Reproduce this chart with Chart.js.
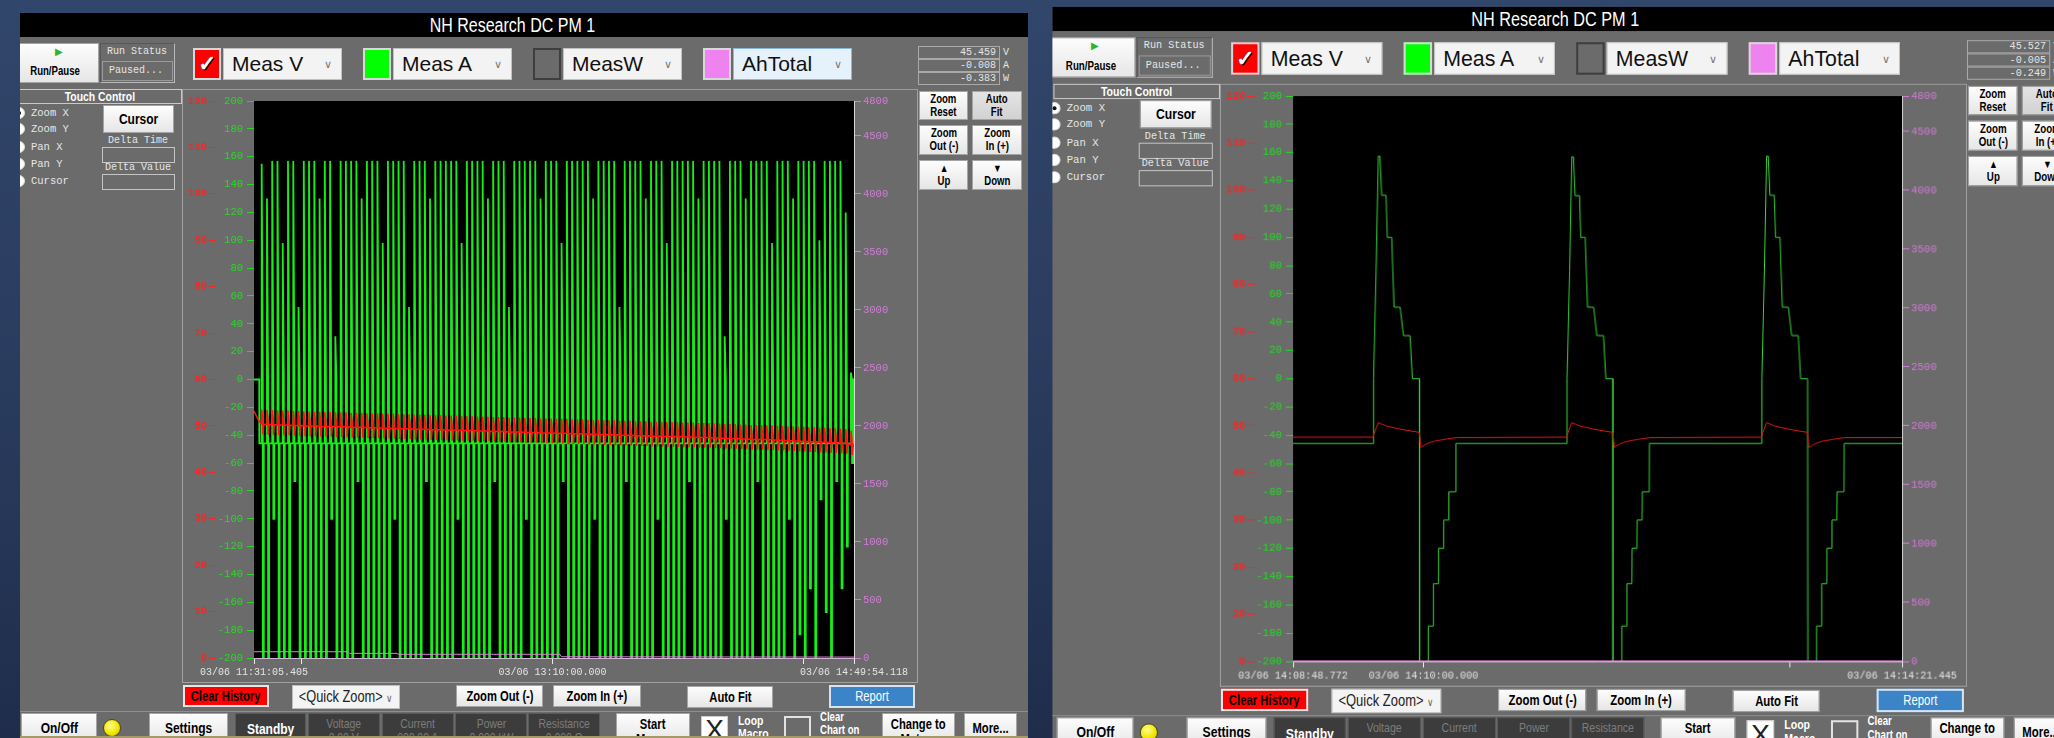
<!DOCTYPE html>
<html>
<head>
<meta charset="utf-8">
<title>NH Research DC PM 1</title>
<script src="https://cdn.jsdelivr.net/npm/chart.js@4.4.1/dist/chart.umd.min.js"></script>
<style>
  html,body{margin:0;padding:0}
  body{width:2054px;height:738px;overflow:hidden;position:relative;
       background:linear-gradient(180deg,#31466b 0%,#293b5d 55%,#1f2d4b 100%);}
  .panel{position:absolute;left:0;top:0;width:1028px;height:760px;transform-origin:0 0;}
  .panel > *{position:absolute;box-sizing:border-box;}
  .nar{font-family:"Liberation Sans",Arial,sans-serif;display:flex;align-items:center;justify-content:center;}
  .nar.l{justify-content:flex-start;}
  .c{display:inline-block;transform:scaleX(0.8);transform-origin:50% 50%;white-space:nowrap;}
  .l .c{transform-origin:0 50%;}
  .mono{font-family:"Liberation Mono","DejaVu Sans Mono",monospace;color:#e6e6e6;}
  .btn{background:linear-gradient(#fdfdfd,#e6e6e6);border:1px solid #a4a4a4;color:#000;font-weight:bold;
       flex-direction:column;text-align:center;line-height:1.05;}
  .dark{background:#3c3c3c;border:1px solid #5a5a5a;color:#7d7d7d;font-weight:bold;
       flex-direction:column;justify-content:flex-start;text-align:center;line-height:1.1;padding-top:3px;}
  .dd{background:#f3f3f3;border:1px solid #c2c2c2;color:#111;font-family:"Liberation Sans",Arial,sans-serif;
      font-size:21px;line-height:30px;padding-left:8px;white-space:nowrap;}
  .dd i{position:absolute;right:9px;top:0;font-style:normal;font-size:11px;color:#777;}
  canvas{display:block}
</style>
</head>
<body>
<div class="panel" id="histPanel"></div>
<div class="panel" id="zoomPanel"></div>
<script>
// ---------------- Long history run: 03/06 11:31:05.405 -> 14:49:54.118 ----------------
// times are seconds after the first sample
const histSpanSec = 11928.713;
const histTickSec = [0, 934.595, 5934.595, 10934.595, 11928.713];
const histTickText = ['03/06 11:31:05.405', '', '03/06 13:10:00.000', '', '03/06 14:49:54.118'];

// start of each current pulse
const histRiseSec = [150,255,359,464,568,673,778,882,987,1091,
  1196,1301,1405,1510,1614,1719,1824,1928,2033,2137,
  2242,2347,2451,2556,2660,2765,2870,2974,3079,3183,
  3288,3393,3497,3602,3706,3811,3916,4020,4125,4229,
  4334,4439,4543,4648,4752,4857,4962,5066,5171,5275,
  5380,5485,5589,5694,5798,5903,6008,6112,6217,6321,
  6426,6531,6635,6740,6844,6949,7054,7158,7263,7367,
  7472,7577,7681,7786,7890,7995,8100,8204,8309,8413,
  8518,8623,8727,8832,8936,9041,9146,9250,9355,9459,
  9564,9669,9773,9878,9982,10087,10192,10296,10401,10505,
  10610,10715,10819,10924,11028,11133,11238,11342,11447,11551,
  11656,11761,11865];
// highest and lowest current shown for each pulse (A)
const histPeakA = [155,130,157,157,98,157,157,52,157,157,
  157,130,157,157,31,157,157,157,157,130,
  157,157,157,98,157,157,157,157,52,157,
  157,157,130,157,157,157,157,157,98,157,
  157,157,157,130,157,157,157,52,157,157,
  157,157,157,130,157,157,157,98,157,157,
  157,157,157,130,157,157,157,157,52,157,
  157,157,157,130,157,157,157,98,157,157,
  157,157,157,130,157,157,157,157,31,157,
  157,157,130,157,157,157,157,98,157,157,
  157,130,157,157,157,157,100,157,157,157,
  157,120,5];
const histLowA = [-200,-200,-100,-200,-200,-200,-73,-200,-200,-200,
  -200,-200,-200,-100,-200,-200,-200,-200,-73,-200,
  -200,-200,-200,-200,-200,-100,-200,-200,-200,-200,
  -200,-73,-200,-200,-200,-200,-200,-100,-200,-200,
  -200,-200,-200,-200,-73,-200,-200,-200,-200,-200,
  -100,-200,-200,-200,-200,-200,-200,-73,-200,-200,
  -200,-200,-200,-100,-200,-200,-200,-200,-200,-73,
  -200,-200,-200,-200,-200,-100,-200,-200,-200,-200,
  -200,-73,-200,-200,-200,-200,-200,-200,-100,-200,
  -200,-200,-200,-200,-73,-200,-200,-200,-200,-200,
  -100,-200,-183,-200,-150,-200,-86,-167,-200,-73,
  -150,-120,-60];
// resting voltage before each pulse (V)
const histRestV = [50.4,50.3,50.3,50.2,50.2,50.2,50.1,50.1,50.0,50.0,
  50.0,49.9,49.9,49.9,49.8,49.8,49.8,49.7,49.7,49.7,
  49.6,49.6,49.6,49.5,49.5,49.5,49.4,49.4,49.4,49.3,
  49.3,49.3,49.2,49.2,49.2,49.1,49.1,49.1,49.0,49.0,
  49.0,48.9,48.9,48.9,48.8,48.8,48.8,48.7,48.7,48.7,
  48.6,48.6,48.6,48.5,48.5,48.5,48.4,48.4,48.4,48.3,
  48.3,48.3,48.2,48.2,48.2,48.1,48.1,48.1,48.0,48.0,
  48.0,47.9,47.9,47.9,47.8,47.8,47.8,47.7,47.7,47.7,
  47.6,47.6,47.6,47.5,47.5,47.5,47.4,47.4,47.3,47.3,
  47.3,47.2,47.2,47.1,47.1,47.1,47.0,47.0,46.9,46.9,
  46.8,46.8,46.7,46.7,46.6,46.6,46.5,46.5,46.4,46.4,
  46.3,46.2,45.9];
const histRestA = -45.8;
// pulse timing relative to its start (s): rise, peak, end of charge, discharge, discharge end, back to rest
const pulseSecA = [0, 2.7, 25.1, 25.2, 44.9, 45.1];
const pulseSecV = [0, 2.7, 25.1, 25.9, 45.5];
const pulseDeltaV = [0, 3.1, 1.0, -2.2, 0];
// amp-hour counter
const histAhSec = [0, 1869, 1900, 2843, 2870, 6083, 6110, 11928.713];
const histAh = [54, 54, 40, 40, 32, 32, 11, 8];

// ---------------- Zoomed run: 03/06 14:08:48.772 -> 14:14:21.445 ----------------
const zoomSpanSec = 332.673;
const zoomTickSec = [0, 71.228, 271.228, 332.673];
const zoomTickText = ['03/06 14:08:48.772', '03/06 14:10:00.000', '', '03/06 14:14:21.445'];
const zoomSecA = [0,
  43.9,44.0,45.4,46.6,47.5,48.4,50.8,51.5,53.9,55.2,58.5,60.3,63.9,65.2,69.0,69.1,73.8,73.9,76.6,76.7,79.4,79.5,82.2,82.3,85.0,85.1,88.9,89.0,
  149.6,149.7,151.1,152.3,153.2,154.1,156.5,157.2,159.6,160.9,164.2,166.0,169.6,170.9,174.7,174.8,179.5,179.6,182.3,182.4,185.1,185.2,187.9,188.0,190.7,190.8,194.6,194.7,
  256.0,256.1,257.5,258.7,259.6,260.5,262.9,263.6,266.0,267.3,270.6,272.4,276.0,277.3,281.1,281.2,285.9,286.0,288.7,288.8,291.5,291.6,294.3,294.4,297.1,297.2,301.0,301.1,
  332.673];
const zoomA = [-45.8,
  -45.8,0,76.6,157.5,157.5,129.8,129.8,100,100,50.6,50.6,30.5,30.5,0,0,-200,-200,-175,-175,-145,-145,-120,-120,-100,-100,-80,-80,-45.8,
  -45.8,0,76.0,157.0,157.0,129.5,129.5,100,100,50.6,50.6,30.5,30.5,0,0,-200,-200,-175,-175,-145,-145,-120,-120,-100,-100,-80,-80,-45.8,
  -45.8,0,76.6,157.5,157.5,129.8,129.8,100,100,50.6,50.6,30.5,30.5,0,0,-200,-200,-175,-175,-145,-145,-120,-120,-100,-100,-80,-80,-45.8,
  -45.8];
const zoomSecV = [0,
  43.8,44.4,46.6,50.8,58.5,69.0,69.8,73.0,76.7,84.0,89.4,
  149.5,150.1,152.3,156.5,164.2,174.7,175.5,178.7,182.4,189.7,195.1,
  255.9,256.5,258.7,262.9,270.6,281.1,281.9,285.1,288.8,296.1,301.5,
  332.673];
const zoomV = [47.6,
  47.6,48.4,50.7,50.0,49.3,48.6,45.4,46.2,46.7,47.2,47.5,
  47.6,48.4,50.7,50.0,49.3,48.6,45.4,46.2,46.7,47.2,47.5,
  47.6,48.4,50.7,50.0,49.3,48.6,45.4,46.2,46.7,47.2,47.5,
  47.5];
const zoomAhSec = [0, 332.673];
const zoomAh = [4, 4];

// ---------------- Axis ticks ----------------
const voltTicks = [0,10,20,30,40,50,60,70,80,90,100,110,120];
const ampTicks = [-200,-180,-160,-140,-120,-100,-80,-60,-40,-20,0,20,40,60,80,100,120,140,160,180,200];
const ahTicks = [0,500,1000,1500,2000,2500,3000,3500,4000,4500,4800];

// ---------------- Build history series ----------------
const histA = [{x:0,y:0},{x:105,y:0},{x:106,y:histRestA}];
const histV = [{x:0,y:53.2},{x:100,y:51.0}];
histRiseSec.forEach((r, i) => {
  const aLevels = [histRestA, histPeakA[i], 0, histLowA[i], histLowA[i], histRestA];
  pulseSecA.forEach((d, k) => histA.push({x: r + d, y: aLevels[k]}));
  pulseSecV.forEach((d, k) => histV.push({x: r + d, y: histRestV[i] + pulseDeltaV[k]}));
});
histA.push({x:11915,y:histRestA},{x:11916,y:0},{x:histSpanSec,y:0});
histV.push({x:histSpanSec,y:45.4});
const pairs = (xs, ys) => xs.map((x, i) => ({x, y: ys[i]}));

// ---------------- Panel chrome ----------------
function panelMarkup(p) {
  const out = [];
  const add = (x, y, w, h, cls, style, html = '') => {
    if (html && /\bnar\b/.test(cls)) html = `<span class="c">${html}</span>`;
    out.push(`<div class="${cls}" style="left:${x}px;top:${y}px;width:${w}px;height:${h}px;${style}">${html}</div>`);
  };
  add(0, 13, 1028, 747, '', 'background:#6b6b6b');
  add(0, 13, 1028, 24, '', 'background:#000');
  add(0, 13, 1024, 24, 'nar', 'color:#fff;font-size:20px;line-height:24px', 'NH Research DC PM 1');

  // run control
  add(12, 43, 87, 40, 'btn nar', 'font-size:12px;justify-content:flex-end;padding-bottom:4px', 'Run/Pause');
  add(52, 46, 14, 12, '', 'color:#2fb42f;font-size:10px;line-height:12px;text-align:center', '&#9654;');
  add(100, 43, 75, 40, '', 'border:1px solid;border-color:#575757 #b9b9b9 #b9b9b9 #575757');
  add(107, 46, 70, 12, 'mono', 'font-size:10px;line-height:12px', 'Run Status');
  add(102, 61, 71, 20, 'mono', 'border:1px solid #9a9a9a;font-size:10px;line-height:18px;padding-left:6px', 'Paused...');

  // trace selectors
  p.series.forEach(s => {
    add(s.x, 48, 28, 32, '', `background:${s.color};border:2px solid ${s.edge}`,
        s.checked ? '<span style="position:absolute;left:3px;top:1px;color:#fff;font:bold 22px Liberation Sans;text-shadow:0 0 1px #000,1px 1px 0 #000">&#10003;</span>' : '');
    add(s.x + 30, 48, 119, 32, 'dd', s.ddStyle || '', `${s.name}<i>&#8744;</i>`);
  });

  // live readouts
  p.readouts.forEach((r, i) => {
    add(918, 46 + i * 13, 82, 13, 'mono', 'border:1px solid #a9a9a9;font-size:10px;line-height:11px;text-align:right;padding-right:3px', r[0]);
    add(1003, 46 + i * 13, 14, 13, 'mono', 'font-size:10px;line-height:13px', r[1]);
  });

  // touch control
  add(182, 89, 736, 594, '', 'border:1px solid #a1a1a1;border-top-color:#9a9a9a');
  add(18, 89, 164, 15, 'nar', 'border:1px solid #c9c9c9;color:#fff;font-weight:bold;font-size:13px;line-height:13px', 'Touch Control');
  ['Zoom X', 'Zoom Y', 'Pan X', 'Pan Y', 'Cursor'].forEach((t, i) => {
    const cy = [113, 129, 147, 164, 181][i];
    add(13, cy - 6, 12, 12, '', 'background:#fff;border-radius:50%;border:1px solid #ddd', i === 0 ? '<span style="position:absolute;left:3px;top:3px;width:4px;height:4px;border-radius:50%;background:#111"></span>' : '');
    add(31, cy - 7, 70, 14, 'mono', 'font-size:10.5px;line-height:14px', t);
  });
  add(103, 105, 71, 28, 'btn nar', 'font-size:15px', 'Cursor');
  add(100, 135, 76, 12, 'mono', 'font-size:10px;line-height:12px;text-align:center', 'Delta Time');
  add(102, 147, 73, 16, '', 'border:1px solid #c4c4c4');
  add(100, 162, 76, 12, 'mono', 'font-size:10px;line-height:12px;text-align:center', 'Delta Value');
  add(102, 174, 73, 16, '', 'border:1px solid #c4c4c4');

  // zoom / pan column
  const side = [['Zoom<br>Reset', 919, 91, 29, ''], ['Auto<br>Fit', 972, 91, 29, 'background:linear-gradient(#e4e4e4,#d2d2d2)'],
    ['Zoom<br>Out (-)', 919, 125, 30, ''], ['Zoom<br>In (+)', 972, 125, 30, ''],
    ['<span style="font-size:11px">&#9650;</span><br>Up', 919, 160, 30, ''], ['<span style="font-size:11px">&#9660;</span><br>Down', 972, 160, 30, '']];
  side.forEach(b => add(b[1], b[2], b[1] === 919 ? 49 : 50, b[3], 'btn nar', 'font-size:12px;' + b[4], b[0]));

  // plot
  add(183, 90, 733, 591, '', '', `<canvas id="${p.canvas}" width="733" height="591"></canvas>`);

  // chart toolbar
  add(183, 685, 86, 22, 'btn nar', 'background:#ff0000;border:2px solid #e6e6e6;font-size:14px', 'Clear History');
  add(292, 685, 108, 24, 'nar', 'background:#f4f4f4;border:1px solid #bdbdbd;font-size:16px;line-height:22px;color:#222', '&lt;Quick Zoom&gt; <span style="font-size:11px;color:#666">&#8744;</span>');
  add(456, 685, 87, 22, 'btn nar', 'font-size:14px', 'Zoom Out (-)');
  add(553, 685, 88, 22, 'btn nar', 'font-size:14px', 'Zoom In (+)');
  add(687, 686, 86, 22, 'btn nar', 'font-size:14px', 'Auto Fit');
  add(829, 685, 86, 23, 'btn nar', 'background:#3c84c8;border:2px solid #d6e4f2;color:#fff;font-size:14px;font-weight:normal', 'Report');

  // instrument bar
  add(0, 711, 1028, 1, '', 'background:#8e8e8e');
  add(21, 713, 76, 30, 'btn nar', 'font-size:15px;justify-content:flex-start;padding-top:6px', 'On/Off');
  add(103, 719, 18, 18, '', 'border-radius:50%;background:radial-gradient(circle at 40% 35%,#ffff8a,#f2e600 55%,#c9b800);border:1px solid #4d4a1a');
  add(149, 713, 79, 30, 'btn nar', 'font-size:15px;justify-content:flex-start;padding-top:6px', 'Settings');
  add(235, 713, 71, 30, 'dark nar', 'color:#fff;font-size:15px;padding-top:7px', 'Standby');
  [['Voltage', '0.00 V', 308], ['Current', '000.00 A', 382], ['Power', '0.000 kW', 455], ['Resistance', '0.000 &#937;', 528]]
    .forEach(m => add(m[2], 713, 72, 30, 'dark nar', 'font-size:13px;font-weight:normal', `${m[0]}<br>${m[1]}`));
  add(616, 713, 74, 30, 'btn nar', 'font-size:14px;justify-content:flex-start;padding-top:3px', 'Start<br>Macro');
  add(701, 716, 27, 27, '', 'background:#fff;border:1px solid #ccc;font:28px Liberation Sans;line-height:26px;text-align:center;color:#222', 'X');
  add(738, 714, 40, 26, 'nar l', 'color:#fff;font-weight:bold;font-size:13px;line-height:13px', 'Loop<br>Macro');
  add(784, 716, 27, 27, '', 'border:2px solid #e2e2e2');
  add(820, 710, 56, 28, 'nar l', 'color:#fff;font-weight:bold;font-size:12px;line-height:13px', 'Clear<br>Chart on');
  add(882, 713, 73, 30, 'btn nar', 'font-size:14px;justify-content:flex-start;padding-top:3px', 'Change to<br>Meter..');
  add(964, 713, 53, 30, 'btn nar', 'font-size:14px;justify-content:flex-start;padding-top:7px', 'More...');
  add(0, 736, 1028, 3, '', 'background:#a39a68');
  return out.join('');
}

const histPanel = document.getElementById('histPanel');
histPanel.style.clipPath = 'inset(13px 0 0 20px)';
histPanel.innerHTML = panelMarkup({
  canvas: 'histChart',
  readouts: [['45.459', 'V'], ['-0.008', 'A'], ['-0.383', 'W']],
  series: [
    {name: 'Meas V', x: 193, color: '#ff0000', edge: '#d8d8d8', checked: true},
    {name: 'Meas A', x: 363, color: '#00ff00', edge: '#d8d8d8'},
    {name: 'MeasW', x: 533, color: '#6b6b6b', edge: '#3e3e3e'},
    {name: 'AhTotal', x: 703, color: '#ee82ee', edge: '#d8d8d8', ddStyle: 'background:#e5f1fb;border-color:#8ab8e6'}
  ]
});
const zoomPanel = document.getElementById('zoomPanel');
zoomPanel.style.transform = 'translate(1035.2px,-6.5px) scale(1.015)';
zoomPanel.style.clipPath = 'inset(13px 0 0 17px)';
zoomPanel.innerHTML = panelMarkup({
  canvas: 'zoomChart',
  readouts: [['45.527', 'V'], ['-0.005', 'A'], ['-0.249', 'W']],
  series: [
    {name: 'Meas V', x: 193, color: '#ff0000', edge: '#d8d8d8', checked: true},
    {name: 'Meas A', x: 363, color: '#00ff00', edge: '#d8d8d8'},
    {name: 'MeasW', x: 533, color: '#6b6b6b', edge: '#3e3e3e'},
    {name: 'AhTotal', x: 703, color: '#ee82ee', edge: '#d8d8d8'}
  ]
});

// ---------------- Charts ----------------
const plotBackground = {
  id: 'plotBackground',
  beforeDraw(chart) {
    const {ctx, chartArea: a} = chart;
    ctx.save();
    ctx.fillStyle = '#000';
    ctx.fillRect(a.left, a.top, a.width, a.height);
    ctx.restore();
  }
};
const mono = (size, weight) => ({family: 'Liberation Mono', size, weight: weight || 'normal'});

function traceChart(id, cfg) {
  return new Chart(document.getElementById(id), {
    type: 'line',
    data: {datasets: [
      {label: 'Meas V', data: cfg.v, yAxisID: 'yV', borderColor: cfg.vColor, borderWidth: cfg.vWidth, order: 0},
      {label: 'AhTotal', data: cfg.ah, yAxisID: 'yAh', borderColor: '#e27ee2', borderWidth: 1, order: 1},
      {label: 'Meas A', data: cfg.a, yAxisID: 'yA', borderColor: cfg.aColor, borderWidth: cfg.aWidth, order: 2}
    ]},
    options: {
      responsive: false, animation: false, events: [],
      layout: {padding: {top: 11, left: 0, right: 0, bottom: 0}},
      elements: {line: {tension: 0, fill: false}, point: {radius: 0}},
      plugins: {legend: {display: false}, tooltip: {enabled: false}},
      scales: {
        x: {
          type: 'linear', position: 'bottom', min: 0, max: cfg.span,
          afterBuildTicks: s => { s.ticks = cfg.tickSec.map(v => ({value: v})); },
          afterFit: s => { s.height = 23; },
          ticks: {autoSkip: false, maxRotation: 0, minRotation: 0, padding: 2, color: '#e4e4e4', font: mono(10),
                  callback: (v, i) => cfg.tickText[i]},
          grid: {drawOnChartArea: false, drawTicks: true, tickLength: 6, color: '#e8e8e8'},
          border: {display: true, color: '#cdb6cd', dash: [3, 3]}
        },
        yV: {
          position: 'left', weight: 1, min: 0, max: 120,
          afterBuildTicks: s => { s.ticks = voltTicks.map(v => ({value: v})); },
          afterFit: s => { s.width = 33; },
          ticks: {padding: 2, color: '#ff2424', font: mono(10.5, 'bold'), callback: v => String(v)},
          grid: {drawOnChartArea: false, tickLength: 7, color: '#ff2424'},
          border: {display: false}
        },
        yA: {
          position: 'left', weight: 0, min: -200, max: 200,
          afterBuildTicks: s => { s.ticks = ampTicks.map(v => ({value: v})); },
          afterFit: s => { s.width = 38; },
          ticks: {padding: 4, color: '#22dd22', font: mono(10.5), callback: v => String(v)},
          grid: {drawOnChartArea: false, tickLength: 7, color: '#22dd22'},
          border: {display: false}
        },
        yAh: {
          position: 'right', min: 0, max: 4800,
          afterBuildTicks: s => { s.ticks = ahTicks.map(v => ({value: v})); },
          afterFit: s => { s.width = 62; },
          ticks: {padding: 2, color: '#d37ad9', font: mono(10.5), callback: v => String(v)},
          grid: {drawOnChartArea: false, tickLength: 7, color: '#d37ad9'},
          border: {display: true, color: '#d9d9d9'}
        }
      }
    },
    plugins: [plotBackground]
  });
}

traceChart('histChart', {
  span: histSpanSec, tickSec: histTickSec, tickText: histTickText,
  v: histV, a: histA, ah: pairs(histAhSec, histAh),
  vColor: '#ff1414', aColor: '#14f014', vWidth: 1.5, aWidth: 1.8
});
traceChart('zoomChart', {
  span: zoomSpanSec, tickSec: zoomTickSec, tickText: zoomTickText,
  v: pairs(zoomSecV, zoomV), a: pairs(zoomSecA, zoomA), ah: pairs(zoomAhSec, zoomAh),
  vColor: '#d81818', aColor: '#38d438', vWidth: 1, aWidth: 1
});
</script>
</body>
</html>
